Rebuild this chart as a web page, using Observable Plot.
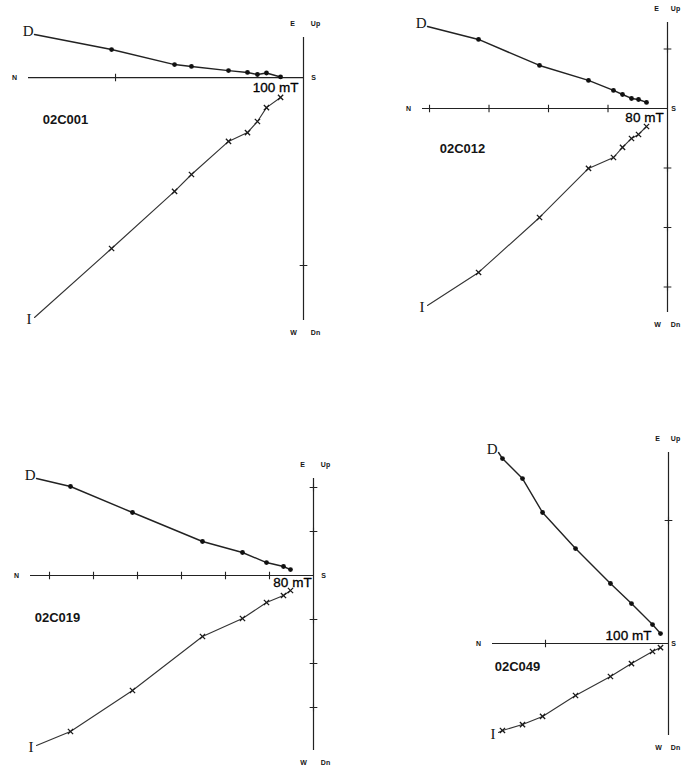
<!DOCTYPE html>
<html>
<head>
<meta charset="utf-8">
<script src="https://cdn.jsdelivr.net/npm/d3@7"></script>
<script src="https://cdn.jsdelivr.net/npm/@observablehq/plot@0.6"></script>
<style>
  html, body { margin: 0; padding: 0; background: #fff; }
  #page { position: relative; width: 682px; height: 767px; overflow: hidden; background: #fff; }
  #page > svg { position: absolute; }
</style>
</head>
<body>
<div id="page"></div>
<script>
// Orthogonal vector-component (Zijderveld) diagrams of four AF-demagnetised specimens.
// Components are given in units of one axis tick. Horizontal axis: N (left) – S (right).
// D = horizontal projection (up = E), I = vertical projection (up = Up, down = Dn).

const samples = ["02C001", "02C012", "02C019", "02C049"];
const finalSteps = ["100 mT", "80 mT", "80 mT", "100 mT"];

// 02C001
const north_02C001 = [1.431, 1.021, 0.686, 0.596, 0.399, 0.298, 0.245, 0.197, 0.122];
const east_02C001  = [0.229, 0.149, 0.069, 0.059, 0.037, 0.027, 0.016, 0.024, 0.003];
const down_02C001  = [1.277, 0.910, 0.606, 0.516, 0.340, 0.293, 0.234, 0.160, 0.106];
const extent_02C001 = [1.463, 0.213, 1.293]; // N reach, Up reach, Dn reach

// 02C012
const north_02C012 = [4.034, 3.176, 2.151, 1.328, 0.908, 0.756, 0.605, 0.487, 0.353];
const east_02C012  = [1.378, 1.160, 0.723, 0.471, 0.303, 0.235, 0.168, 0.151, 0.101];
const down_02C012  = [3.311, 2.756, 1.832, 1.008, 0.824, 0.655, 0.504, 0.437, 0.303];
const extent_02C012 = [4.118, 1.445, 3.429];

// 02C019
const north_02C019 = [6.295, 5.523, 4.114, 2.523, 1.614, 1.068, 0.682, 0.523];
const east_02C019  = [2.205, 2.023, 1.432, 0.773, 0.523, 0.295, 0.205, 0.136];
const down_02C019  = [3.864, 3.545, 2.614, 1.386, 0.977, 0.614, 0.455, 0.341];
const extent_02C019 = [6.432, 2.205, 3.977];

// 02C049
const north_02C049 = [1.382, 1.350, 1.187, 1.024, 0.756, 0.472, 0.301, 0.130, 0.065];
const east_02C049  = [1.553, 1.504, 1.341, 1.065, 0.772, 0.488, 0.325, 0.154, 0.081];
const down_02C049  = [0.724, 0.707, 0.659, 0.593, 0.423, 0.268, 0.163, 0.065, 0.033];
const extent_02C049 = [1.431, 1.553, 0.748];

const axisNames = {west: "N", east: "S", top: ["E", "Up"], bottom: ["W", "Dn"]};

const panels = [
  {id: samples[0], step: finalSteps[0], north: north_02C001, east: east_02C001, down: down_02C001, ext: extent_02C001,
   box: [0, 0, 341, 383], margin: [37, 38, 63, 28], idAt: [37, 77], stepAt: [-5, 11], rightGap: 12},
  {id: samples[1], step: finalSteps[1], north: north_02C012, east: east_02C012, down: down_02C012, ext: extent_02C012,
   box: [341, 0, 341, 383], margin: [22, 15, 71, 81], idAt: [40, 121], stepAt: [-2, 15], rightGap: 8},
  {id: samples[2], step: finalSteps[2], north: north_02C019, east: east_02C019, down: down_02C019, ext: extent_02C019,
   box: [0, 383, 341, 384], margin: [95, 28, 17, 30], idAt: [27, 134], stepAt: [2, 13], rightGap: 12},
  {id: samples[3], step: finalSteps[3], north: north_02C049, east: east_02C049, down: down_02C049, ext: extent_02C049,
   box: [341, 383, 341, 384], margin: [69, 14, 32, 151], idAt: [25, 209], stepAt: [-32, 2], rightGap: 7}
];

const sans = "'Liberation Sans', Arial, Helvetica, sans-serif";
const serif = "'Liberation Serif', 'Times New Roman', serif";
const ink = "#151515";

function drawPanel(p) {
  const [nMax, upMax, dnMax] = p.ext;
  const horiz = p.north.map((n, i) => ({i, x: -n, y: p.east[i]}));
  const vert = p.north.map((n, i) => ({i, x: -n, y: -p.down[i]}));
  const ticksX = d3.range(1, Math.floor(nMax) + 1).map(t => -t);
  const ticksY = d3.range(-Math.floor(dnMax), Math.floor(upMax) + 1).filter(t => t !== 0);
  const tiny = {fontFamily: sans, fontSize: 7, fontWeight: "bold", fill: ink};
  const last = horiz[horiz.length - 1];

  const svg = Plot.plot({
    width: p.box[2],
    height: p.box[3],
    marginTop: p.margin[0],
    marginRight: p.margin[1],
    marginBottom: p.margin[2],
    marginLeft: p.margin[3],
    x: {domain: [-nMax, 0], axis: null},
    y: {domain: [-dnMax, upMax], axis: null},
    style: {background: "transparent"},
    marks: [
      // axes through the origin
      Plot.ruleY([0], {x1: -nMax, x2: 0, stroke: "#222", strokeWidth: 1.2}),
      Plot.ruleX([0], {y1: -dnMax, y2: upMax, stroke: "#222", strokeWidth: 1.2}),
      Plot.dot(ticksX, {x: d => d, y: 0, symbol: "plus", r: 2.6, stroke: "#222", strokeWidth: 1.1}),
      Plot.dot(ticksY, {x: 0, y: d => d, symbol: "plus", r: 2.6, stroke: "#222", strokeWidth: 1.1}),

      // axis direction labels
      Plot.text([axisNames.west], {x: -nMax, y: 0, dx: -14, ...tiny}),
      Plot.text([axisNames.east], {x: 0, y: 0, dx: p.rightGap - 2, ...tiny}),
      Plot.text([axisNames.top[0]], {x: 0, y: upMax, dx: -11, dy: -14, ...tiny}),
      Plot.text([axisNames.top[1]], {x: 0, y: upMax, dx: p.rightGap, dy: -14, ...tiny}),
      Plot.text([axisNames.bottom[0]], {x: 0, y: -dnMax, dx: -10, dy: 12, ...tiny}),
      Plot.text([axisNames.bottom[1]], {x: 0, y: -dnMax, dx: p.rightGap, dy: 12, ...tiny}),

      // vertical projection (inclination)
      Plot.line(vert, {x: "x", y: "y", stroke: "#333", strokeWidth: 1.1}),
      Plot.dot(vert.filter(d => d.i > 0), {x: "x", y: "y", symbol: "times", r: 2.5, stroke: "#1a1a1a", strokeWidth: 1.3}),

      // horizontal projection (declination)
      Plot.line(horiz, {x: "x", y: "y", stroke: "#222", strokeWidth: 1.4}),
      Plot.dot(horiz.filter(d => d.i > 0), {x: "x", y: "y", r: 2.4, fill: "#111"}),

      // curve labels at the NRM end
      Plot.text([horiz[0]], {x: "x", y: "y", text: () => "D", textAnchor: "end", dx: -1, dy: -3,
        fontFamily: serif, fontSize: 15, fill: ink}),
      Plot.text([vert[0]], {x: "x", y: "y", text: () => "I", textAnchor: "end", dx: -3, dy: 2,
        fontFamily: serif, fontSize: 15, fill: ink}),

      // last demagnetisation step
      Plot.text([last], {x: "x", y: "y", text: () => p.step, dx: p.stepAt[0], dy: p.stepAt[1],
        fontFamily: sans, fontSize: 13.5, fill: "#000", stroke: "#000", strokeWidth: 0.3}),

      // specimen name
      Plot.text([p.id], {frameAnchor: "top-left", text: d => d, dx: p.idAt[0], dy: p.idAt[1],
        textAnchor: "middle", fontFamily: sans, fontSize: 13, fontWeight: "bold", fill: ink})
    ]
  });
  svg.style.left = p.box[0] + "px";
  svg.style.top = p.box[1] + "px";
  return svg;
}

const page = document.getElementById("page");
for (const p of panels) page.appendChild(drawPanel(p));
</script>
</body>
</html>
